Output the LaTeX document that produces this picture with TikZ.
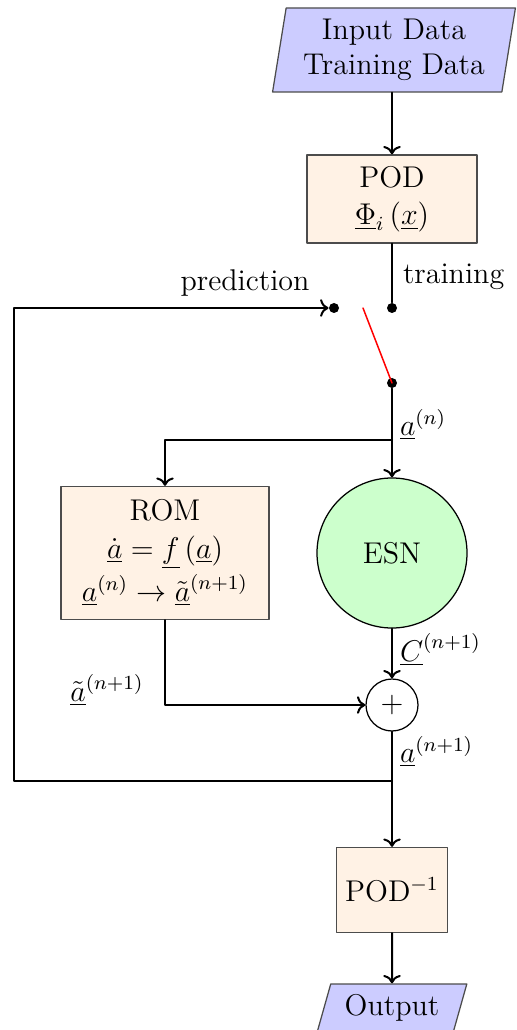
\documentclass[tikz,border=0pt]{standalone}
\usetikzlibrary{calc,positioning,shapes,arrows.meta}

\begin{document}
\begin{tikzpicture}[x=0.4pt,y=-0.4pt, font=\large, line cap=round, line join=round]

% ---------- styles ----------
\tikzset{
  io/.style={draw=black!70, fill=blue!20, trapezium, trapezium stretches=true,
    align=center, inner sep=1pt, line width=0.5pt},
  block/.style={draw=black!70, fill=orange!10, align=center, line width=0.5pt, inner sep=2pt},
  esn/.style={draw=black, fill=green!20, circle, line width=0.5pt},
  sum/.style={draw=black, fill=white, circle, line width=0.5pt, inner sep=0pt},
  dot/.style={fill=black, circle, inner sep=0pt, minimum size=4pt},
  flow/.style={line width=0.8pt},
  lbl/.style={inner sep=1pt},
}

% ---------- canvas ----------
\useasboundingbox (0,0) rectangle (517,1030);

% ---------- input / POD ----------
\node[io, trapezium left angle=80, trapezium right angle=100,
      minimum width=98pt, minimum height=33.6pt] (in) at (394,50)
  {Input Data\\Training Data};

\node[block, minimum width=68pt, minimum height=35.2pt] (pod) at (392,199)
  {POD\\[1pt] $\underline{\Phi}_i\left(\underline{x}\right)$};

% ---------- switch ----------
\node[dot] (strain) at (392,308) {};
\node[dot] (spred)  at (334,308) {};
\node[dot] (sout)   at (392,383) {};
\coordinate (lever) at (363,308);

\node[lbl, anchor=west] (ltrain) at (400,277) {training};
\node[lbl] (lpred) at (245,283) {prediction};

% ---------- ROM / ESN ----------
\node[esn, minimum size=60pt] (esn) at (392,553) {ESN};

\node[block, minimum width=83.2pt, minimum height=53.2pt] (rom) at (165,553)
  {ROM\\[1pt]
   $\underline{\dot a} = \underline{f}\,(\underline{a})$\\[1pt]
   $\underline{a}^{(n)} \rightarrow \underline{\tilde a}^{(n+1)}$};

\node[sum, minimum size=20.8pt] (plus) at (392,705) {$+$};

\coordinate (inout) at (pod.north |- in.south);
\coordinate (split) at (392,440);
\coordinate (romc)  at (split -| rom.north);
\coordinate (romout) at (plus.west -| rom.south);
\coordinate (merge) at (392,781);
\coordinate (lowL)  at (14,781);
\coordinate (upL)   at (14,308);

\node[lbl, anchor=west] (la)  at (397,425) {$\underline{a}^{(n)}$};
\node[lbl, anchor=west] (lc)  at (397,650) {$\underline{C}^{(n+1)}$};
\node[lbl] (lat) at (107,690) {$\underline{\tilde a}^{(n+1)}$};
\node[lbl, anchor=west] (lan) at (397,752) {$\underline{a}^{(n+1)}$};

% ---------- output ----------
\node[block, minimum width=44.4pt, minimum height=34pt] (podinv) at (392,890)
  {POD$^{-1}$};

\node[io, trapezium left angle=71, trapezium right angle=109,
      minimum width=60pt, minimum height=19.2pt] (out) at (392,1008) {Output};

% ---------- connectors ----------
\draw[flow, ->] (inout) -- (pod);
\draw[flow] (pod) -- (strain);
\draw[red, line width=0.6pt] (lever) -- (sout.center);
\draw[flow, ->] (sout) -- (esn);
\draw[flow, ->] (split) -- (romc) -- (rom);
\draw[flow, ->] (esn) -- (plus);
\draw[flow, ->] (rom) -- (romout) -- (plus);
\draw[flow] (plus) -- (merge);
\draw[flow, ->] (merge) -- (lowL) -- (upL) -- (spred);
\draw[flow, ->] (merge) -- (podinv);
\draw[flow, ->] (podinv) -- (out);

\end{tikzpicture}
\end{document}
